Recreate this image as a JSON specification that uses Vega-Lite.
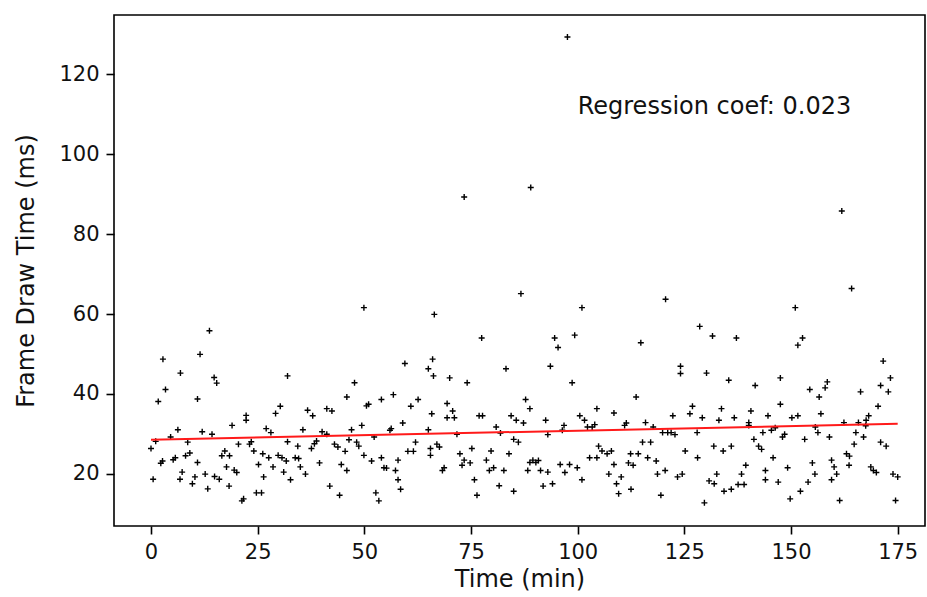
{
  "$schema": "https://vega.github.io/schema/vega-lite/v6.json",
  "autosize": {"type": "none"},
  "width": 811,
  "height": 511,
  "padding": {"left": 114, "top": 15, "right": 2, "bottom": 71},
  "background": "white",
  "config": {
    "view": {"stroke": "black", "strokeWidth": 1.6},
    "axis": {
      "domain": false,
      "grid": false,
      "ticks": true,
      "tickColor": "black",
      "tickWidth": 1.6,
      "tickSize": 8,
      "labelFont": "DejaVu Sans",
      "labelFontSize": 21,
      "labelColor": "#111111",
      "labelPadding": 7,
      "titleFont": "DejaVu Sans",
      "titleFontSize": 24,
      "titleFontWeight": "normal",
      "titleColor": "#111111"
    }
  },
  "datasets": {
    "frames": [
      {"t":13.7,"v":55.8},{"t":2.8,"v":48.7},{"t":11.5,"v":49.9},{"t":6.9,"v":45.2},{"t":14.8,"v":44.1},{"t":15.4,"v":42.7},{"t":3.4,"v":41.1},{"t":1.7,"v":38.1},{"t":10.9,"v":38.7},{"t":6.3,"v":31.0},{"t":4.6,"v":29.2},{"t":1.1,"v":28.1},{"t":0.0,"v":26.3},{"t":12.0,"v":30.5},{"t":14.3,"v":29.9},{"t":8.6,"v":27.9},{"t":19.0,"v":32.1},{"t":20.5,"v":27.4},{"t":17.3,"v":25.7},{"t":18.4,"v":24.5},{"t":16.6,"v":24.5},{"t":9.1,"v":25.2},{"t":8.1,"v":24.5},{"t":2.7,"v":23.2},{"t":2.3,"v":22.6},{"t":5.2,"v":23.5},{"t":5.7,"v":24.0},{"t":10.9,"v":22.8},{"t":7.3,"v":20.4},{"t":17.7,"v":21.7},{"t":19.5,"v":20.9},{"t":20.1,"v":20.3},{"t":0.5,"v":18.6},{"t":6.8,"v":18.6},{"t":10.3,"v":19.2},{"t":9.7,"v":17.5},{"t":12.7,"v":19.9},{"t":14.9,"v":19.3},{"t":16.0,"v":18.6},{"t":13.3,"v":16.2},{"t":18.3,"v":16.9},
      {"t":32.0,"v":44.5},{"t":22.3,"v":34.6},{"t":22.3,"v":33.4},{"t":30.3,"v":36.9},{"t":29.2,"v":35.1},{"t":36.7,"v":35.9},{"t":37.9,"v":34.5},{"t":41.2,"v":36.3},{"t":42.4,"v":35.7},{"t":27.0,"v":31.3},{"t":28.1,"v":30.3},{"t":35.6,"v":31.0},{"t":40.1,"v":30.5},{"t":41.2,"v":29.9},{"t":23.1,"v":27.4},{"t":23.5,"v":28.0},{"t":24.1,"v":25.7},{"t":32.0,"v":28.0},{"t":34.4,"v":26.9},{"t":37.6,"v":26.3},{"t":38.8,"v":28.2},{"t":38.3,"v":27.5},{"t":43.0,"v":27.4},{"t":26.2,"v":25.0},{"t":27.6,"v":24.0},{"t":29.8,"v":24.6},{"t":30.7,"v":24.0},{"t":31.7,"v":23.2},{"t":33.8,"v":24.0},{"t":34.6,"v":23.8},{"t":25.2,"v":22.3},{"t":28.6,"v":21.7},{"t":35.0,"v":21.7},{"t":39.5,"v":22.7},{"t":31.1,"v":20.4},{"t":36.2,"v":19.9},{"t":26.4,"v":19.2},{"t":32.7,"v":18.5},{"t":41.9,"v":16.9},{"t":24.7,"v":15.2},{"t":25.9,"v":15.2},{"t":21.7,"v":13.7},{"t":21.3,"v":13.2},
      {"t":49.9,"v":61.6},{"t":59.5,"v":47.6},{"t":66.0,"v":48.7},{"t":65.0,"v":46.3},{"t":66.2,"v":44.5},{"t":47.7,"v":42.8},{"t":45.9,"v":39.2},{"t":50.5,"v":37.0},{"t":51.0,"v":37.4},{"t":54.0,"v":38.6},{"t":56.8,"v":39.8},{"t":60.9,"v":36.9},{"t":62.6,"v":38.6},{"t":65.8,"v":35.0},{"t":49.4,"v":32.1},{"t":59.0,"v":32.7},{"t":47.0,"v":31.0},{"t":56.0,"v":30.9},{"t":56.3,"v":31.3},{"t":65.0,"v":31.0},{"t":46.4,"v":28.5},{"t":48.2,"v":27.9},{"t":48.7,"v":26.9},{"t":52.3,"v":29.2},{"t":62.0,"v":27.9},{"t":43.8,"v":26.7},{"t":45.5,"v":25.6},{"t":65.5,"v":26.3},{"t":65.5,"v":24.6},{"t":60.2,"v":25.6},{"t":61.5,"v":25.6},{"t":49.9,"v":24.6},{"t":51.7,"v":23.2},{"t":54.0,"v":24.0},{"t":57.9,"v":23.4},{"t":44.6,"v":22.3},{"t":45.9,"v":20.8},{"t":54.6,"v":21.5},{"t":55.2,"v":21.4},{"t":57.3,"v":20.8},{"t":57.9,"v":18.5},{"t":58.5,"v":16.1},{"t":44.2,"v":14.6},{"t":52.7,"v":15.2},{"t":53.4,"v":13.2},
      {"t":86.7,"v":65.1},{"t":66.4,"v":59.9},{"t":77.5,"v":54.0},{"t":83.2,"v":46.3},{"t":70.0,"v":44.0},{"t":74.1,"v":42.8},{"t":87.8,"v":38.6},{"t":69.4,"v":37.6},{"t":70.7,"v":35.7},{"t":69.4,"v":34.0},{"t":71.1,"v":34.0},{"t":76.9,"v":34.5},{"t":77.7,"v":34.5},{"t":84.4,"v":34.5},{"t":85.6,"v":33.4},{"t":87.3,"v":32.7},{"t":88.8,"v":36.3},{"t":80.9,"v":31.7},{"t":81.9,"v":30.2},{"t":71.7,"v":29.9},{"t":85.0,"v":28.6},{"t":86.1,"v":27.9},{"t":67.0,"v":27.4},{"t":67.6,"v":26.7},{"t":75.2,"v":26.3},{"t":79.7,"v":25.7},{"t":83.9,"v":25.0},{"t":72.4,"v":25.0},{"t":73.4,"v":23.4},{"t":74.8,"v":22.7},{"t":72.9,"v":22.1},{"t":78.6,"v":23.4},{"t":88.8,"v":22.8},{"t":68.7,"v":21.5},{"t":68.3,"v":20.8},{"t":80.3,"v":21.5},{"t":79.3,"v":20.8},{"t":82.7,"v":20.8},{"t":88.3,"v":20.8},{"t":75.8,"v":18.5},{"t":81.6,"v":17.0},{"t":85.0,"v":15.6},{"t":76.4,"v":14.6},
      {"t":101.0,"v":61.6},{"t":94.6,"v":54.0},{"t":95.4,"v":51.6},{"t":99.3,"v":54.7},{"t":93.6,"v":46.9},{"t":98.7,"v":42.8},{"t":104.5,"v":36.3},{"t":108.5,"v":35.2},{"t":92.5,"v":33.4},{"t":100.5,"v":34.5},{"t":101.6,"v":33.4},{"t":102.3,"v":31.7},{"t":103.4,"v":31.7},{"t":104.0,"v":32.3},{"t":96.8,"v":32.1},{"t":96.4,"v":30.9},{"t":93.0,"v":29.8},{"t":111.0,"v":32.1},{"t":111.4,"v":32.7},{"t":104.9,"v":26.9},{"t":105.7,"v":25.7},{"t":106.9,"v":25.0},{"t":107.9,"v":25.7},{"t":102.8,"v":24.0},{"t":104.5,"v":24.0},{"t":89.5,"v":23.4},{"t":90.2,"v":22.8},{"t":90.8,"v":23.3},{"t":91.3,"v":20.8},{"t":93.0,"v":20.4},{"t":95.9,"v":22.3},{"t":98.1,"v":22.3},{"t":99.9,"v":21.5},{"t":97.0,"v":20.3},{"t":108.5,"v":22.3},{"t":107.3,"v":19.9},{"t":110.2,"v":19.2},{"t":101.0,"v":18.5},{"t":91.9,"v":16.9},{"t":94.1,"v":17.5},{"t":109.1,"v":17.5},{"t":109.6,"v":15.0},
      {"t":120.6,"v":63.7},{"t":128.6,"v":56.9},{"t":131.6,"v":54.5},{"t":114.8,"v":52.8},{"t":124.1,"v":46.9},{"t":124.1,"v":45.1},{"t":130.2,"v":45.2},{"t":113.7,"v":39.2},{"t":126.9,"v":36.9},{"t":126.3,"v":35.0},{"t":133.7,"v":36.3},{"t":122.3,"v":34.5},{"t":129.2,"v":34.0},{"t":133.1,"v":33.4},{"t":115.9,"v":32.8},{"t":117.7,"v":31.7},{"t":119.9,"v":30.3},{"t":121.1,"v":30.3},{"t":121.9,"v":30.3},{"t":122.8,"v":29.8},{"t":128.0,"v":30.3},{"t":115.2,"v":27.9},{"t":117.1,"v":27.9},{"t":131.9,"v":26.9},{"t":134.1,"v":25.7},{"t":125.2,"v":25.7},{"t":112.4,"v":25.0},{"t":114.2,"v":25.0},{"t":116.4,"v":24.0},{"t":118.4,"v":23.2},{"t":128.1,"v":24.0},{"t":111.9,"v":22.7},{"t":113.0,"v":22.1},{"t":120.5,"v":20.8},{"t":118.7,"v":19.9},{"t":123.4,"v":19.2},{"t":124.5,"v":19.9},{"t":132.6,"v":19.9},{"t":130.8,"v":18.2},{"t":132.0,"v":17.5},{"t":112.5,"v":16.1},{"t":119.5,"v":14.6},{"t":129.7,"v":12.7},{"t":134.3,"v":15.6},
      {"t":151.0,"v":61.6},{"t":137.2,"v":54.0},{"t":152.7,"v":54.0},{"t":151.6,"v":52.2},{"t":135.4,"v":43.4},{"t":141.6,"v":42.1},{"t":147.5,"v":44.0},{"t":154.4,"v":41.1},{"t":156.6,"v":39.2},{"t":147.5,"v":37.4},{"t":140.6,"v":35.7},{"t":136.7,"v":34.0},{"t":144.6,"v":34.5},{"t":150.2,"v":34.0},{"t":151.6,"v":34.5},{"t":157.0,"v":35.0},{"t":140.1,"v":32.8},{"t":140.1,"v":32.1},{"t":146.3,"v":31.5},{"t":145.4,"v":30.9},{"t":143.4,"v":30.3},{"t":148.5,"v":29.9},{"t":148.0,"v":29.2},{"t":155.7,"v":31.7},{"t":156.3,"v":30.3},{"t":153.2,"v":28.6},{"t":141.3,"v":28.6},{"t":142.4,"v":26.9},{"t":143.1,"v":26.1},{"t":136.0,"v":26.9},{"t":145.8,"v":24.0},{"t":139.4,"v":22.1},{"t":149.2,"v":21.5},{"t":155.0,"v":22.7},{"t":144.0,"v":20.8},{"t":138.4,"v":19.9},{"t":155.6,"v":19.9},{"t":144.0,"v":18.5},{"t":147.0,"v":17.9},{"t":137.6,"v":17.3},{"t":139.0,"v":17.3},{"t":154.0,"v":17.9},{"t":136.0,"v":16.1},{"t":152.2,"v":15.6},{"t":149.8,"v":13.7},
      {"t":171.6,"v":48.2},{"t":173.3,"v":44.0},{"t":158.5,"v":43.0},{"t":158.0,"v":41.5},{"t":171.0,"v":42.1},{"t":172.8,"v":40.5},{"t":166.3,"v":40.5},{"t":170.4,"v":36.9},{"t":168.2,"v":34.5},{"t":167.6,"v":33.4},{"t":162.4,"v":32.8},{"t":165.8,"v":32.8},{"t":167.5,"v":32.0},{"t":165.2,"v":30.3},{"t":167.0,"v":29.2},{"t":159.0,"v":29.2},{"t":171.0,"v":27.9},{"t":172.3,"v":26.9},{"t":164.8,"v":27.4},{"t":163.0,"v":25.0},{"t":163.7,"v":24.4},{"t":163.6,"v":22.1},{"t":159.5,"v":23.4},{"t":160.1,"v":21.7},{"t":160.7,"v":19.9},{"t":159.5,"v":18.5},{"t":168.7,"v":21.7},{"t":169.3,"v":20.8},{"t":170.0,"v":20.3},{"t":173.9,"v":19.9},{"t":175.0,"v":19.2},{"t":161.4,"v":13.3},{"t":174.5,"v":13.3},
      {"t":97.6,"v":129.4},{"t":73.4,"v":89.3},{"t":89.0,"v":91.7},{"t":161.9,"v":85.8},{"t":164.2,"v":66.4}
    ],
    "fit": [{"t": 0, "v": 28.5}, {"t": 175, "v": 32.5}],
    "note": [{"t": 100, "v": 110, "label": "Regression coef: 0.023"}]
  },
  "layer": [
    {
      "data": {"name": "frames"},
      "mark": {
        "type": "point",
        "shape": "M-1,0L1,0M0,-1L0,1",
        "filled": false,
        "stroke": "black",
        "strokeWidth": 1.4,
        "size": 36,
        "opacity": 1
      },
      "encoding": {
        "x": {
          "field": "t", "type": "quantitative",
          "scale": {"domain": [-8.67, 181.4], "nice": false, "zero": false},
          "axis": {"values": [0, 25, 50, 75, 100, 125, 150, 175], "title": "Time (min)", "titlePadding": 5}
        },
        "y": {
          "field": "v", "type": "quantitative",
          "scale": {"domain": [6.9, 134.9], "nice": false, "zero": false},
          "axis": {"values": [20, 40, 60, 80, 100, 120], "title": "Frame Draw Time (ms)", "titlePadding": 20}
        }
      }
    },
    {
      "data": {"name": "fit"},
      "mark": {"type": "line", "color": "#ff1a1a", "strokeWidth": 2},
      "encoding": {
        "x": {"field": "t", "type": "quantitative"},
        "y": {"field": "v", "type": "quantitative"}
      }
    },
    {
      "data": {"name": "note"},
      "mark": {"type": "text", "align": "left", "baseline": "alphabetic", "font": "DejaVu Sans", "fontSize": 24, "color": "#111111"},
      "encoding": {
        "x": {"field": "t", "type": "quantitative"},
        "y": {"field": "v", "type": "quantitative"},
        "text": {"field": "label"}
      }
    }
  ]
}
